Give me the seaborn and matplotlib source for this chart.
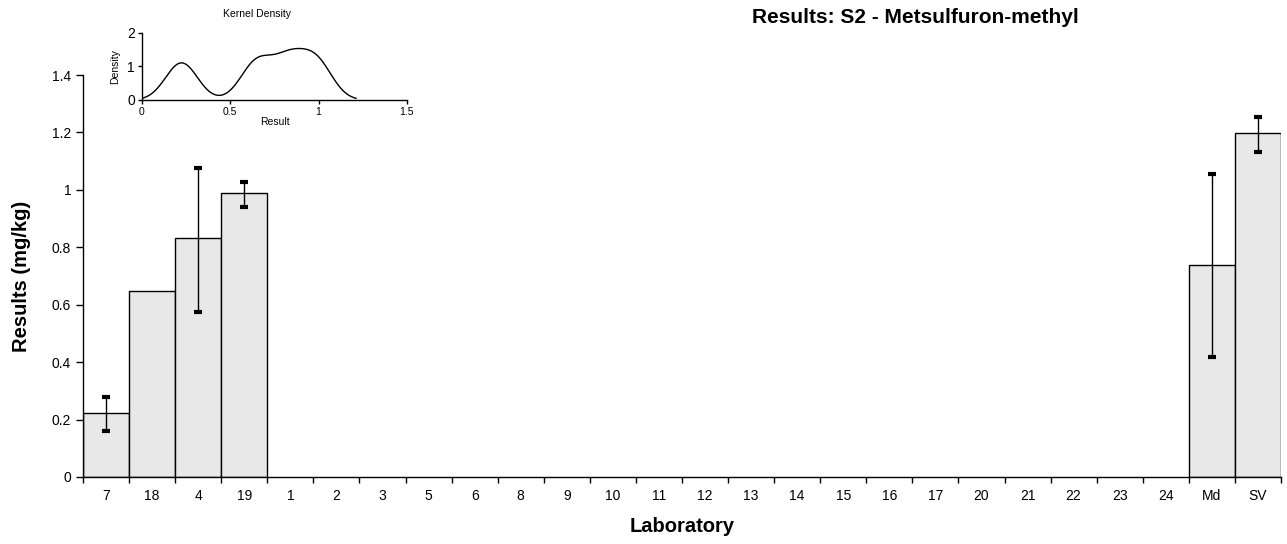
import matplotlib
matplotlib.use("Agg")
import matplotlib.pyplot as plt
from matplotlib.ticker import FuncFormatter, FixedLocator
import seaborn as sns
import pandas as pd
import numpy as np

labs = ["7", "18", "4", "19", "1", "2", "3", "5", "6", "8", "9", "10", "11",
        "12", "13", "14", "15", "16", "17", "20", "21", "22", "23", "24", "Md", "SV"]
results = [0.224, 0.649, 0.831, 0.988] + [np.nan] * 20 + [0.738, 1.197]
err_low = [0.161, np.nan, 0.576, 0.942] + [np.nan] * 20 + [0.419, 1.133]
err_high = [0.278, np.nan, 1.077, 1.028] + [np.nan] * 20 + [1.055, 1.255]

# lab results used for the kernel density inset
kde_values = [0.224, 0.649, 0.831, 0.988]

df = pd.DataFrame({"lab": labs, "result": results, "lo": err_low, "hi": err_high})

sns.set_style("white")
plt.rcParams["font.family"] = ["Liberation Sans", "DejaVu Sans"]
plt.rcParams["text.color"] = "black"
plt.rcParams["axes.labelcolor"] = "black"
plt.rcParams["xtick.color"] = "black"
plt.rcParams["ytick.color"] = "black"

fig = plt.figure(figsize=(12.87, 5.44), dpi=100)
ax = fig.add_axes([0.0645, 0.1232, 0.9308, 0.7389])

sns.barplot(data=df, x="lab", y="result", order=labs, color="#e8e8e8",
            edgecolor="black", linewidth=1, width=1.0, saturation=1, ax=ax)

pos = np.arange(len(labs))
has_err = df["lo"].notna()
ax.errorbar(pos[has_err], df.loc[has_err, "result"],
            yerr=[df.loc[has_err, "result"] - df.loc[has_err, "lo"],
                  df.loc[has_err, "hi"] - df.loc[has_err, "result"]],
            fmt="none", ecolor="black", elinewidth=1, capsize=3, capthick=3)

ax.set_xlim(-0.5, len(labs) - 0.5)
ax.set_ylim(0, 1.4)
ax.set_yticks([0, 0.2, 0.4, 0.6, 0.8, 1.0, 1.2, 1.4])
ax.yaxis.set_major_formatter(FuncFormatter(lambda v, p: f"{v:g}"))
ax.xaxis.set_minor_locator(FixedLocator(np.arange(-0.5, len(labs), 1)))
ax.tick_params(axis="x", which="both", bottom=True)
ax.tick_params(axis="x", which="major", length=0, labelsize=10, pad=9)
ax.tick_params(axis="x", which="minor", length=4, width=1, direction="out")
ax.tick_params(axis="y", left=True, length=5, width=1, direction="out", labelsize=10)

for s in ["top", "right"]:
    ax.spines[s].set_visible(False)
for s in ["left", "bottom"]:
    ax.spines[s].set_color("black")
    ax.spines[s].set_linewidth(1)

ax.set_xlabel("Laboratory", fontsize=14.5, fontweight="bold", labelpad=10)
ax.set_ylabel("Results (mg/kg)", fontsize=14.5, fontweight="bold", labelpad=15)

fig.text(0.711, 0.9577, "Results: S2 - Metsulfuron-methyl", ha="center", va="baseline",
         fontsize=15, fontweight="bold")

# inset kernel density
ins = fig.add_axes([0.1103, 0.8162, 0.2059, 0.1232])
sns.kdeplot(x=kde_values, bw_method=0.273, cut=2.5, color="black", linewidth=1, ax=ins)
ins.set_xlim(0, 1.5)
ins.set_ylim(0, 2)
ins.set_xticks([0, 0.5, 1, 1.5])
ins.set_yticks([0, 1, 2])
ins.xaxis.set_major_formatter(FuncFormatter(lambda v, p: f"{v:g}"))
ins.yaxis.set_major_formatter(FuncFormatter(lambda v, p: f"{v:g}"))
ins.tick_params(axis="x", bottom=True, length=3, width=1, direction="out", labelsize=7.5, pad=2)
ins.tick_params(axis="y", left=True, length=3, width=1, direction="out", labelsize=10, pad=2)
ins.patch.set_alpha(0)
for s in ["top", "right"]:
    ins.spines[s].set_visible(False)
for s in ["left", "bottom"]:
    ins.spines[s].set_color("black")
    ins.spines[s].set_linewidth(1)
ins.set_xlabel("Result", fontsize=7.5, labelpad=0)
ins.set_ylabel("Density", fontsize=7.5, labelpad=5)
fig.text(0.2, 0.969, "Kernel Density", ha="center", va="baseline", fontsize=7.5)

fig.savefig("out.png", dpi=100)
